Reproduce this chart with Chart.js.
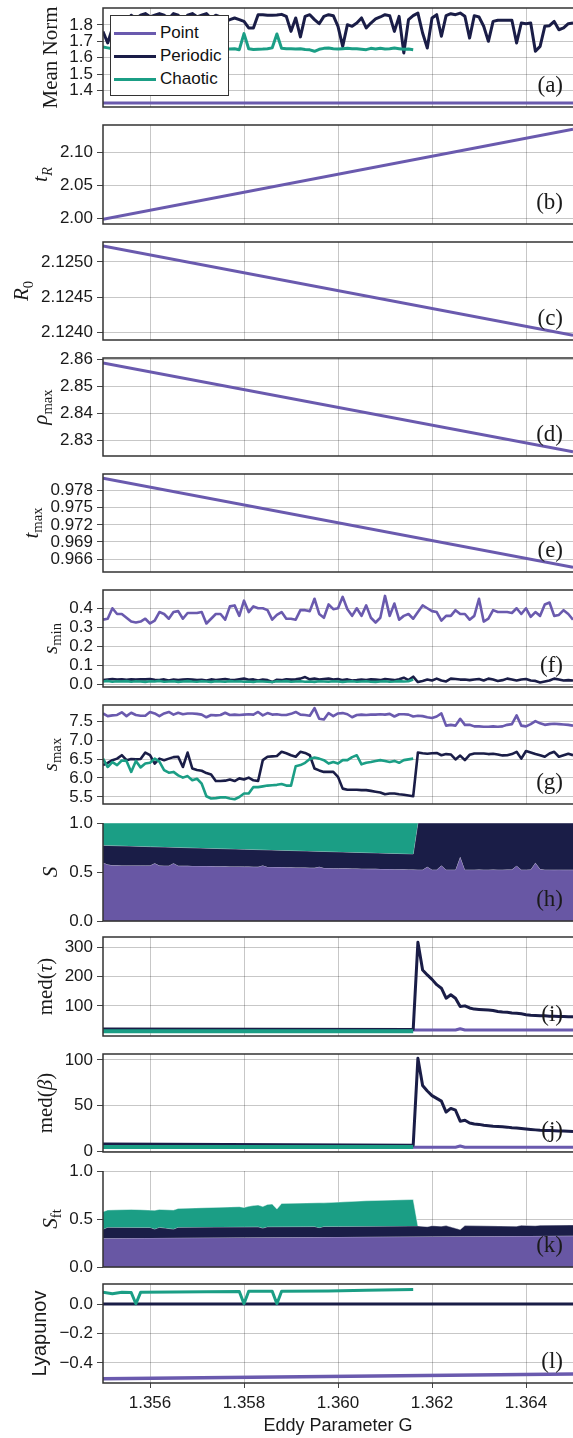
<!DOCTYPE html>
<html>
<head>
<meta charset="utf-8">
<script src="https://cdn.jsdelivr.net/npm/chart.js@4.4.1/dist/chart.umd.min.js"></script>
<style>
  html, body { margin: 0; padding: 0; background: #fff; }
  #fig { position: relative; width: 573px; height: 1438px; overflow: hidden; }
  #fig canvas { position: absolute; left: 0; }
  #legend { position: absolute; left: 110px; top: 15px; width: 119px; height: 81px; box-sizing: border-box;
            background: #fff; border: 1px solid #333; z-index: 2;
            font: 17px "Liberation Sans", Arial, sans-serif; color: #111; }
  #legend .row { position: absolute; left: 3px; height: 20px; line-height: 20px; white-space: nowrap; }
  #legend .sw { display: inline-block; width: 42px; height: 3px; vertical-align: middle; margin-right: 4px; }
</style>
</head>
<body>
<div id="fig"><div id="legend"></div></div>
<script>
// eddy parameter sweep, step 0.0001
const G = [
  1.3550, 1.3551, 1.3552, 1.3553, 1.3554, 1.3555, 1.3556, 1.3557, 1.3558, 1.3559,
  1.3560, 1.3561, 1.3562, 1.3563, 1.3564, 1.3565, 1.3566, 1.3567, 1.3568, 1.3569,
  1.3570, 1.3571, 1.3572, 1.3573, 1.3574, 1.3575, 1.3576, 1.3577, 1.3578, 1.3579,
  1.3580, 1.3581, 1.3582, 1.3583, 1.3584, 1.3585, 1.3586, 1.3587, 1.3588, 1.3589,
  1.3590, 1.3591, 1.3592, 1.3593, 1.3594, 1.3595, 1.3596, 1.3597, 1.3598, 1.3599,
  1.3600, 1.3601, 1.3602, 1.3603, 1.3604, 1.3605, 1.3606, 1.3607, 1.3608, 1.3609,
  1.3610, 1.3611, 1.3612, 1.3613, 1.3614, 1.3615, 1.3616, 1.3617, 1.3618, 1.3619,
  1.3620, 1.3621, 1.3622, 1.3623, 1.3624, 1.3625, 1.3626, 1.3627, 1.3628, 1.3629,
  1.3630, 1.3631, 1.3632, 1.3633, 1.3634, 1.3635, 1.3636, 1.3637, 1.3638, 1.3639,
  1.3640, 1.3641, 1.3642, 1.3643, 1.3644, 1.3645, 1.3646, 1.3647, 1.3648, 1.3649,
  1.3650,
];
const LINE_G = [1.355, 1.365];
const G_JUMP = [1.3550, 1.3616, 1.3617, 1.3618, 1.3619, 1.3620, 1.3621, 1.3622, 1.3623, 1.3624,
  1.3625, 1.3626, 1.3627, 1.3628, 1.3629, 1.3630, 1.3631, 1.3632, 1.3633, 1.3634, 1.3635, 1.3636,
  1.3637, 1.3638, 1.3639, 1.3640, 1.3641, 1.3642, 1.3643, 1.3644, 1.3645, 1.3646, 1.3647, 1.3648,
  1.3649, 1.3650];
const G_END = [1.3550, 1.3616];
const X_TICKS = [1.356, 1.358, 1.360, 1.362, 1.364];
const SERIES = ['Point', 'Periodic', 'Chaotic'];

// (a) mean norm
const MEAN_POINT = [1.322, 1.322];
const MEAN_PERIODIC = [
  1.76, 1.69, 1.78, 1.84, 1.85, 1.80, 1.86, 1.84, 1.86, 1.87,
  1.85, 1.86, 1.87, 1.86, 1.84, 1.87, 1.86, 1.80, 1.86, 1.87,
  1.85, 1.86, 1.87, 1.84, 1.86, 1.85, 1.82, 1.833, 1.843, 1.833,
  1.822, 1.782, 1.782, 1.863, 1.863, 1.859, 1.859, 1.861, 1.865, 1.853,
  1.761, 1.843, 1.727, 1.853, 1.863, 1.833, 1.808, 1.853, 1.863, 1.857,
  1.792, 1.669, 1.802, 1.792, 1.812, 1.843, 1.782, 1.812, 1.837, 1.849,
  1.863, 1.857, 1.761, 1.853, 1.629, 1.833, 1.857, 1.873, 1.751, 1.659,
  1.843, 1.863, 1.731, 1.857, 1.869, 1.863, 1.873, 1.853, 1.720, 1.857,
  1.849, 1.792, 1.700, 1.822, 1.829, 1.829, 1.829, 1.829, 1.690, 1.812,
  1.808, 1.812, 1.639, 1.669, 1.792, 1.796, 1.822, 1.771, 1.782, 1.808,
  1.812,
];
const MEAN_CHAOTIC = [
  1.665, 1.660, 1.655, 1.660, 1.650, 1.660, 1.655, 1.660, 1.665, 1.655,
  1.660, 1.650, 1.660, 1.655, 1.660, 1.650, 1.655, 1.660, 1.655, 1.650,
  1.660, 1.655, 1.660, 1.650, 1.655, 1.660, 1.655, 1.653, 1.655, 1.649,
  1.747, 1.655, 1.650, 1.652, 1.653, 1.655, 1.660, 1.745, 1.657, 1.655,
  1.655, 1.653, 1.655, 1.650, 1.648, 1.639, 1.651, 1.657, 1.659, 1.655,
  1.653, 1.655, 1.657, 1.655, 1.655, 1.652, 1.649, 1.657, 1.653, 1.657,
  1.653, 1.655, 1.659, 1.655, 1.651, 1.653, 1.649,
];

// (b)-(e) fixed point quantities
const T_R = [1.999, 2.1354];
const R_0 = [2.125225, 2.123958];
const RHO_MAX = [2.85876, 2.82566];
const T_MAX = [0.98016, 0.96454];

// (f) s_min
const SMIN_POINT = [
  0.34, 0.345, 0.40, 0.37, 0.37, 0.35, 0.33, 0.325, 0.33, 0.345,
  0.32, 0.335, 0.38, 0.37, 0.345, 0.38, 0.385, 0.345, 0.375, 0.375,
  0.375, 0.38, 0.32, 0.345, 0.37, 0.37, 0.34, 0.41, 0.415, 0.36,
  0.44, 0.38, 0.41, 0.40, 0.40, 0.39, 0.34, 0.365, 0.38, 0.345,
  0.345, 0.34, 0.39, 0.39, 0.385, 0.45, 0.37, 0.35, 0.42, 0.395,
  0.40, 0.46, 0.395, 0.36, 0.40, 0.36, 0.415, 0.35, 0.325, 0.35,
  0.465, 0.36, 0.425, 0.34, 0.36, 0.37, 0.345, 0.38, 0.415, 0.40,
  0.385, 0.38, 0.335, 0.36, 0.36, 0.39, 0.37, 0.37, 0.34, 0.36,
  0.45, 0.33, 0.345, 0.39, 0.38, 0.38, 0.38, 0.375, 0.40, 0.37,
  0.40, 0.355, 0.38, 0.36, 0.42, 0.43, 0.36, 0.365, 0.39, 0.37,
  0.34,
];
const SMIN_PERIODIC = [
  0.022, 0.025, 0.028, 0.025, 0.027, 0.024, 0.026, 0.025, 0.027, 0.026,
  0.028, 0.024, 0.023, 0.026, 0.020, 0.025, 0.022, 0.025, 0.027, 0.025,
  0.022, 0.024, 0.020, 0.026, 0.022, 0.025, 0.028, 0.024, 0.022, 0.026,
  0.030, 0.024, 0.026, 0.020, 0.025, 0.022, 0.012, 0.024, 0.022, 0.027,
  0.025, 0.026, 0.030, 0.038, 0.026, 0.030, 0.025, 0.028, 0.030, 0.025,
  0.028, 0.022, 0.026, 0.020, 0.022, 0.025, 0.022, 0.026, 0.025, 0.022,
  0.028, 0.025, 0.022, 0.027, 0.035, 0.022, 0.040, 0.012, 0.018, 0.025,
  0.020, 0.030, 0.020, 0.015, 0.030, 0.028, 0.025, 0.025, 0.022, 0.025,
  0.028, 0.020, 0.030, 0.025, 0.018, 0.022, 0.030, 0.025, 0.020, 0.025,
  0.028, 0.020, 0.018, 0.010, 0.015, 0.020, 0.030, 0.025, 0.020, 0.022,
  0.020,
];
const SMIN_CHAOTIC = [
  0.015, 0.018, 0.014, 0.016, 0.015, 0.017, 0.014, 0.016, 0.015, 0.013,
  0.016, 0.015, 0.018, 0.014, 0.015, 0.016, 0.013, 0.015, 0.017, 0.015,
  0.014, 0.016, 0.015, 0.013, 0.016, 0.015, 0.014, 0.017, 0.015, 0.016,
  0.014, 0.015, 0.013, 0.016, 0.015, 0.014, 0.012, 0.016, 0.015, 0.017,
  0.014, 0.015, 0.016, 0.014, 0.015, 0.013, 0.016, 0.015, 0.014, 0.016,
  0.015, 0.013, 0.015, 0.016, 0.014, 0.015, 0.016, 0.014, 0.013, 0.015,
  0.016, 0.014, 0.015, 0.017, 0.015, 0.016, 0.025,
];

// (g) s_max
const SMAX_POINT = [
  7.70, 7.63, 7.65, 7.66, 7.73, 7.63, 7.72, 7.66, 7.64, 7.64,
  7.74, 7.70, 7.63, 7.70, 7.74, 7.67, 7.72, 7.68, 7.70, 7.70,
  7.69, 7.67, 7.60, 7.66, 7.65, 7.66, 7.72, 7.66, 7.67, 7.66,
  7.67, 7.68, 7.67, 7.74, 7.65, 7.71, 7.67, 7.68, 7.66, 7.66,
  7.69, 7.74, 7.67, 7.66, 7.64, 7.84, 7.56, 7.54, 7.71, 7.63,
  7.70, 7.71, 7.68, 7.60, 7.66, 7.67, 7.66, 7.67, 7.67, 7.68,
  7.67, 7.69, 7.62, 7.68, 7.68, 7.67, 7.62, 7.64, 7.63, 7.60,
  7.58, 7.62, 7.70, 7.38, 7.40, 7.38, 7.56, 7.40, 7.40, 7.36,
  7.36, 7.35, 7.35, 7.36, 7.35, 7.36, 7.40, 7.42, 7.65, 7.38,
  7.36, 7.42, 7.50, 7.44, 7.40, 7.42, 7.43, 7.42, 7.41, 7.40,
  7.38,
];
const SMAX_PERIODIC = [
  6.34, 6.40, 6.47, 6.51, 6.60, 6.47, 6.50, 6.49, 6.50, 6.67,
  6.60, 6.38, 6.51, 6.47, 6.51, 6.55, 6.56, 6.29, 6.67, 6.25,
  6.21, 6.19, 6.13, 6.09, 5.92, 5.92, 5.93, 5.96, 5.92, 5.99,
  5.96, 6.01, 5.94, 5.92, 6.47, 6.56, 6.57, 6.58, 6.69, 6.65,
  6.60, 6.56, 6.69, 6.66, 6.60, 6.25, 6.20, 6.16, 6.16, 6.16,
  6.03, 5.72, 5.69, 5.69, 5.69, 5.68, 5.68, 5.66, 5.64, 5.62,
  5.57, 5.59, 5.59, 5.57, 5.56, 5.54, 5.52, 6.67, 6.65, 6.64,
  6.65, 6.66, 6.60, 6.63, 6.62, 6.49, 6.59, 6.47, 6.61, 6.645,
  6.645, 6.645, 6.63, 6.64, 6.62, 6.595, 6.60, 6.63, 6.69, 6.51,
  6.71, 6.67, 6.63, 6.60, 6.56, 6.645, 6.69, 6.56, 6.60, 6.64,
  6.60,
];
const SMAX_CHAOTIC = [
  6.51, 6.29, 6.42, 6.34, 6.46, 6.45, 6.16, 6.45, 6.28, 6.38,
  6.40, 6.51, 6.43, 6.21, 6.14, 6.16, 6.07, 6.01, 6.05, 5.94,
  5.98, 5.85, 5.52, 5.46, 5.47, 5.49, 5.49, 5.46, 5.44, 5.50,
  5.59, 5.59, 5.76, 5.76, 5.78, 5.80, 5.81, 5.82, 5.84, 5.80,
  5.80, 6.31, 6.34, 6.40, 6.50, 6.54, 6.51, 6.47, 6.38, 6.42,
  6.38, 6.47, 6.47, 6.55, 6.60, 6.36, 6.40, 6.42, 6.45, 6.47,
  6.45, 6.42, 6.45, 6.40, 6.47, 6.49, 6.51,
];

// (h) basin shares S, cumulative from the bottom
const S_POINT = [
  0.595, 0.577, 0.568, 0.568, 0.567, 0.567, 0.567, 0.566, 0.566, 0.566,
  0.566, 0.590, 0.566, 0.565, 0.565, 0.590, 0.564, 0.563, 0.563, 0.562,
  0.562, 0.561, 0.561, 0.560, 0.559, 0.559, 0.558, 0.557, 0.557, 0.556,
  0.555, 0.555, 0.554, 0.553, 0.567, 0.552, 0.551, 0.550, 0.550, 0.549,
  0.548, 0.547, 0.546, 0.545, 0.544, 0.543, 0.553, 0.541, 0.540, 0.539,
  0.538, 0.537, 0.537, 0.536, 0.535, 0.534, 0.533, 0.532, 0.532, 0.531,
  0.530, 0.530, 0.529, 0.528, 0.527, 0.526, 0.525, 0.524, 0.524, 0.553,
  0.524, 0.524, 0.566, 0.524, 0.524, 0.524, 0.655, 0.524, 0.524, 0.524,
  0.525, 0.524, 0.524, 0.525, 0.524, 0.524, 0.525, 0.525, 0.565, 0.524,
  0.524, 0.525, 0.595, 0.530, 0.524, 0.524, 0.523, 0.524, 0.523, 0.523,
  0.523,
];
const S_PERIODIC_G = [1.3550, 1.3616, 1.3617, 1.3650];
const S_PERIODIC = [0.772, 0.684, 1.0, 1.0];
const S_CHAOTIC_G = [1.3550, 1.3617];
const S_CHAOTIC = [1.0, 1.0];

// (i) med(tau), (j) med(beta)
const TAU_POINT_G = [1.3550, 1.3625, 1.3626, 1.3627, 1.3650];
const TAU_POINT = [18, 18, 22, 18, 18];
const TAU_PERIODIC = [21, 20, 316, 222, 205, 190, 172, 160, 126, 138, 126, 98, 100, 93, 89, 88, 87, 86,
  84, 81, 79, 78, 76, 75, 73, 70, 68, 67, 66, 66, 65, 65, 64, 64, 63, 63];
const TAU_CHAOTIC = [13.5, 13.5];
const BETA_POINT = [4.5, 4.5, 5.8, 4.5, 4.5];
const BETA_PERIODIC = [8, 6.8, 101.8, 72, 66, 61, 58, 55, 43, 47, 45, 33, 34, 31, 30, 29.5, 28.5, 28,
  27.5, 27.3, 27, 26.5, 25.8, 25.5, 25, 24.5, 24, 23.5, 23, 22.9, 22.8, 22.6, 22.4, 22.2, 22, 21.8];
const BETA_CHAOTIC = [4.7, 4.7];

// (k) S_ft, cumulative from the bottom
const SFT_POINT = [0.300, 0.325];
const SFT_PERIODIC_G = [1.3550, 1.3551, 1.3560, 1.3561, 1.3562, 1.3565, 1.3566, 1.3583, 1.3584, 1.3585,
  1.3595, 1.3596, 1.3597, 1.3616, 1.3617, 1.3619, 1.3620, 1.3622, 1.3623, 1.3626, 1.3627, 1.3638,
  1.3639, 1.3642, 1.3643, 1.3650];
const SFT_PERIODIC = [0.393, 0.414, 0.412, 0.395, 0.413, 0.395, 0.414, 0.418, 0.405, 0.419,
  0.421, 0.410, 0.422, 0.428, 0.428, 0.420, 0.430, 0.425, 0.431, 0.390, 0.431, 0.425,
  0.434, 0.430, 0.436, 0.438];
const SFT_CHAOTIC_G = [1.3550, 1.3551, 1.3556, 1.3558, 1.3561, 1.3562, 1.3565, 1.3566, 1.3579, 1.3580,
  1.3581, 1.3582, 1.3583, 1.3584, 1.3585, 1.3586, 1.3587, 1.3588, 1.3596, 1.3597, 1.3606, 1.3616, 1.3617];
const SFT_CHAOTIC = [0.576, 0.593, 0.600, 0.597, 0.590, 0.600, 0.593, 0.610, 0.628, 0.620,
  0.632, 0.640, 0.645, 0.630, 0.652, 0.655, 0.603, 0.662, 0.669, 0.668, 0.690, 0.703, 0.428];

// (l) Lyapunov exponent
const LYAP_POINT = [-0.5065, -0.4746];
const LYAP_PERIODIC = [0, 0];
const LYAP_CHAOTIC_G = [1.3550, 1.3551, 1.3552, 1.3553, 1.3554, 1.3556, 1.3557, 1.3558, 1.3579, 1.3580,
  1.3581, 1.3586, 1.3587, 1.3588, 1.3598, 1.3606, 1.3616];
const LYAP_CHAOTIC = [0.079, 0.075, 0.070, 0.075, 0.079, 0.078, 0.002, 0.079, 0.085, 0.002,
  0.086, 0.086, 0.002, 0.086, 0.088, 0.093, 0.099];

const SANS = '"Liberation Sans", Arial, sans-serif';
const SERIF = '"Liberation Serif", "DejaVu Serif", serif';
const C_POINT = '#6a5aae';
const C_PER = '#1a1d47';
const C_CHA = '#1b9e85';
const A_POINT = '#6857a4';
const GRID = 'rgba(0,0,0,0.22)';
const TICK = '#444';
const FRAME = '#333';
const INK = '#1a1a1a';
const LEFT = 103;
const PAD = 16;
const TICK_PX = 17;

const xy = (xs, ys) => ys.map((y, i) => ({ x: xs[i], y }));
const fmt = (v, d) => (v < -1e-9 ? '\u2212' : '') + Math.abs(v).toFixed(d);

function line(data, color, order, width = 3) {
  return { data, borderColor: color, borderWidth: width, pointRadius: 0, tension: 0,
           fill: false, order, borderJoinStyle: 'round' };
}
function area(data, color, fill, order) {
  return { data, borderColor: 'rgba(255,255,255,0.55)', borderWidth: 0.8, backgroundColor: color,
           pointRadius: 0, tension: 0, fill, order };
}

function drawRich(ctx, parts, cx, cy, size) {
  const fontOf = p => `${p.it ? 'italic ' : ''}${p.sub ? size * 0.7 : size}px ${p.sans ? SANS : SERIF}`;
  let total = 0;
  for (const p of parts) { ctx.font = fontOf(p); total += ctx.measureText(p.t).width; }
  ctx.save();
  ctx.translate(cx, cy);
  ctx.rotate(-Math.PI / 2);
  ctx.textAlign = 'left';
  ctx.textBaseline = 'alphabetic';
  let x = -total / 2;
  for (const p of parts) {
    ctx.font = fontOf(p);
    ctx.fillText(p.t, x, size * 0.3 + (p.sub ? size * 0.22 : 0));
    x += ctx.measureText(p.t).width;
  }
  ctx.restore();
}

function decor(p) {
  return {
    id: 'decor',
    afterDatasetsDraw(chart) {
      const { ctx, chartArea: a } = chart;
      ctx.save();
      ctx.strokeStyle = FRAME;
      ctx.lineWidth = 1.5;
      ctx.beginPath();
      if (p.open) ctx.moveTo(a.left, a.top);
      else { ctx.moveTo(a.right + 2, a.top); ctx.lineTo(a.left, a.top); }
      ctx.lineTo(a.left, a.bottom);
      ctx.lineTo(a.right + 2, a.bottom);
      ctx.stroke();

      ctx.fillStyle = INK;
      ctx.font = `23px ${SERIF}`;
      ctx.textAlign = 'right';
      ctx.textBaseline = 'alphabetic';
      ctx.fillText(p.tag, a.right - 10, a.bottom - 15);

      ctx.font = `${TICK_PX}px ${SANS}`;
      const w = Math.max(...chart.scales.y.ticks.map(t => ctx.measureText(t.label).width));
      drawRich(ctx, p.title, a.left - 10 - w - 19, (a.top + a.bottom) / 2, p.titleSize || 21);
      ctx.restore();
    },
  };
}

const fig = document.getElementById('fig');

function make(p) {
  const last = !!p.xTitle;
  const cv = document.createElement('canvas');
  cv.width = 573;
  cv.height = (p.bottom - p.top) + PAD + (last ? 55 : PAD);
  cv.style.top = (p.top - PAD) + 'px';
  fig.appendChild(cv);
  new Chart(cv.getContext('2d'), {
    type: 'line',
    data: { datasets: p.datasets },
    options: {
      responsive: false,
      animation: false,
      events: [],
      layout: { padding: { top: PAD, bottom: last ? 0 : PAD, left: 0, right: 0 } },
      plugins: { legend: { display: false }, tooltip: { enabled: false } },
      scales: {
        x: {
          type: 'linear', min: 1.355, max: 1.365,
          afterBuildTicks: s => { s.ticks = X_TICKS.map(v => ({ value: v })); },
          afterFit: s => { s.height = last ? 55 : 0; s.paddingLeft = 0; s.paddingRight = 0; },
          grid: { color: GRID, drawTicks: last, tickLength: 5, tickColor: TICK },
          border: { display: false },
          ticks: { display: last, color: INK, font: { size: TICK_PX, family: SANS }, padding: 5,
                   maxRotation: 0, autoSkip: false, callback: v => v.toFixed(3) },
          title: { display: last, text: p.xTitle || '', color: INK, font: { size: 18, family: SANS },
                   padding: { top: 0, bottom: 1 } },
        },
        y: {
          min: p.yMin, max: p.yMax,
          afterBuildTicks: s => { s.ticks = p.yTicks.map(v => ({ value: v })); },
          afterFit: s => { s.width = LEFT; s.paddingTop = 0; s.paddingBottom = 0; },
          grid: { color: GRID, tickLength: 6, tickColor: TICK },
          border: { display: false },
          ticks: { color: INK, font: { size: TICK_PX, family: SANS }, padding: 4, autoSkip: false,
                   callback: v => fmt(v, p.dec) },
        },
      },
    },
    plugins: [decor(p)],
  });
}

const panels = [
  { top: 8, bottom: 107, yMin: 1.298, yMax: 1.904, yTicks: [1.4, 1.5, 1.6, 1.7, 1.8], dec: 1,
    tag: '(a)', title: [{ t: 'Mean Norm' }],
    datasets: [line(xy(LINE_G, MEAN_POINT), C_POINT, 3), line(xy(G, MEAN_PERIODIC), C_PER, 2),
               line(xy(G, MEAN_CHAOTIC), C_CHA, 1)] },
  { top: 125, bottom: 224, yMin: 1.9919, yMax: 2.1419, yTicks: [2.00, 2.05, 2.10], dec: 2,
    tag: '(b)', title: [{ t: 't', it: 1 }, { t: 'R', it: 1, sub: 1 }],
    datasets: [line(xy(LINE_G, T_R), C_POINT, 1)] },
  { top: 242, bottom: 340, yMin: 2.123892, yMax: 2.125282, yTicks: [2.1240, 2.1245, 2.1250], dec: 4,
    tag: '(c)', title: [{ t: 'R', it: 1 }, { t: '0', sub: 1 }],
    datasets: [line(xy(LINE_G, R_0), C_POINT, 1)] },
  { top: 358, bottom: 456, yMin: 2.82405, yMax: 2.86062, yTicks: [2.83, 2.84, 2.85, 2.86], dec: 2,
    tag: '(d)', title: [{ t: '\u03c1', it: 1 }, { t: 'max', sub: 1 }],
    datasets: [line(xy(LINE_G, RHO_MAX), C_POINT, 1)] },
  { top: 474, bottom: 572, yMin: 0.96373, yMax: 0.98091, yTicks: [0.966, 0.969, 0.972, 0.975, 0.978], dec: 3,
    tag: '(e)', title: [{ t: 't', it: 1 }, { t: 'max', sub: 1 }],
    datasets: [line(xy(LINE_G, T_MAX), C_POINT, 1)] },
  { top: 590, bottom: 687, yMin: -0.014, yMax: 0.496, yTicks: [0, 0.1, 0.2, 0.3, 0.4], dec: 1,
    tag: '(f)', title: [{ t: 's', it: 1 }, { t: 'min', sub: 1 }],
    datasets: [line(xy(G, SMIN_POINT), C_POINT, 3, 2.6), line(xy(G, SMIN_PERIODIC), C_PER, 2, 2.6),
               line(xy(G, SMIN_CHAOTIC), C_CHA, 1, 2.6)] },
  { top: 705, bottom: 804, yMin: 5.315, yMax: 7.923, yTicks: [5.5, 6.0, 6.5, 7.0, 7.5], dec: 1,
    tag: '(g)', title: [{ t: 's', it: 1 }, { t: 'max', sub: 1 }],
    datasets: [line(xy(G, SMAX_POINT), C_POINT, 3, 2.6), line(xy(G, SMAX_PERIODIC), C_PER, 2, 2.6),
               line(xy(G, SMAX_CHAOTIC), C_CHA, 1, 2.6)] },
  { top: 823, bottom: 921, yMin: 0, yMax: 1, yTicks: [0, 0.5, 1], dec: 1, open: true,
    tag: '(h)', title: [{ t: 'S', it: 1 }],
    datasets: [area(xy(G, S_POINT), A_POINT, 'origin', 3), area(xy(S_PERIODIC_G, S_PERIODIC), C_PER, '-1', 2),
               area(xy(S_CHAOTIC_G, S_CHAOTIC), C_CHA, '-1', 1)] },
  { top: 937, bottom: 1036, yMin: -2.4, yMax: 334, yTicks: [100, 200, 300], dec: 0,
    tag: '(i)', title: [{ t: 'med(' }, { t: '\u03c4', it: 1 }, { t: ')' }],
    datasets: [line(xy(TAU_POINT_G, TAU_POINT), C_POINT, 3), line(xy(G_JUMP, TAU_PERIODIC), C_PER, 2),
               line(xy(G_END, TAU_CHAOTIC), C_CHA, 1, 4)] },
  { top: 1054, bottom: 1152, yMin: -0.7, yMax: 106.5, yTicks: [0, 50, 100], dec: 0,
    tag: '(j)', title: [{ t: 'med(' }, { t: '\u03b2', it: 1 }, { t: ')' }],
    datasets: [line(xy(TAU_POINT_G, BETA_POINT), C_POINT, 3), line(xy(G_JUMP, BETA_PERIODIC), C_PER, 2),
               line(xy(G_END, BETA_CHAOTIC), C_CHA, 1, 4)] },
  { top: 1171, bottom: 1267, yMin: 0, yMax: 1, yTicks: [0, 0.5, 1], dec: 1, open: true,
    tag: '(k)', title: [{ t: 'S', it: 1 }, { t: 'ft', sub: 1 }],
    datasets: [area(xy(LINE_G, SFT_POINT), A_POINT, 'origin', 3), area(xy(SFT_PERIODIC_G, SFT_PERIODIC), C_PER, '-1', 2),
               area(xy(SFT_CHAOTIC_G, SFT_CHAOTIC), C_CHA, '-1', 1)] },
  { top: 1284, bottom: 1383, yMin: -0.5356, yMax: 0.1356, yTicks: [-0.4, -0.2, 0], dec: 1,
    tag: '(l)', title: [{ t: 'Lyapunov', sans: 1 }], titleSize: 20, xTitle: 'Eddy Parameter G',
    datasets: [line(xy(LINE_G, LYAP_POINT), C_POINT, 3, 3.6), line(xy(LINE_G, LYAP_PERIODIC), C_PER, 2),
               line(xy(LYAP_CHAOTIC_G, LYAP_CHAOTIC), C_CHA, 1)] },
];

panels.forEach(make);

// legend drawn over panel (a)
const legend = document.getElementById('legend');
[C_POINT, C_PER, C_CHA].forEach((c, i) => {
  const row = document.createElement('div');
  row.className = 'row';
  row.style.top = (7 + i * 23) + 'px';
  row.innerHTML = `<span class="sw" style="background:${c}"></span>`;
  row.appendChild(document.createTextNode(SERIES[i]));
  legend.appendChild(row);
});
</script>
</body>
</html>
